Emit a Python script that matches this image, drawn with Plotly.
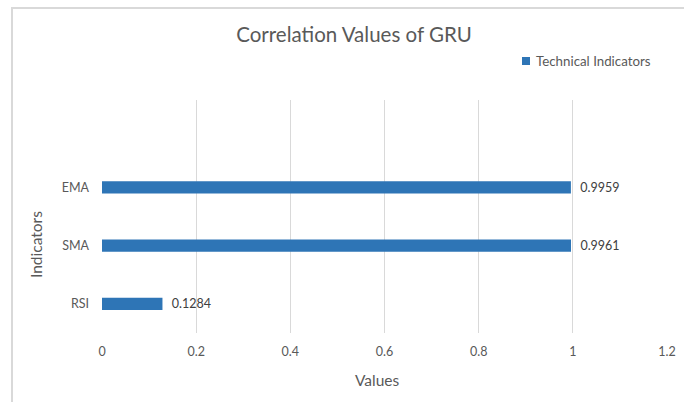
import plotly.graph_objects as go

indicators = ["RSI", "SMA", "EMA"]
values = [0.1284, 0.9961, 0.9959]
labels = ["0.1284", "0.9961", "0.9959"]
x_ticks = [0, 0.2, 0.4, 0.6, 0.8, 1, 1.2]
x_tick_text = ["0", "0.2", "0.4", "0.6", "0.8", "1", "1.2"]
series_name = "Technical Indicators"

FONT = "Lato, 'Open Sans', sans-serif"
GREY = "#595959"
BLUE = "#2E75B6"

fig = go.Figure()
fig.add_trace(go.Bar(
    x=values, y=indicators, orientation="h",
    name=series_name, showlegend=False,
    marker=dict(color=BLUE, line=dict(width=0)),
    width=0.21,
    text=labels, texttemplate="\u00a0\u00a0%{text}", textposition="outside",
    cliponaxis=False, constraintext="none",
    textfont=dict(family=FONT, size=12.5, color="#404040"),
))

W, H = 684, 402
L, R, T, B = 102, 17, 100, 69
pw, ph = W - L - R, H - T - B

def px(x):
    return (x - L) / pw

def py(y):
    return (H - B - y) / ph

fig.update_layout(
    width=W, height=H,
    margin=dict(l=L, r=R, t=T, b=B, autoexpand=False),
    paper_bgcolor="white", plot_bgcolor="white",
    font=dict(family=FONT, color=GREY, size=12.5),
    title=dict(text="Correlation Values of GRU", x=354 / W, xref="container", xanchor="center",
               y=1 - 35 / H, yref="container", yanchor="middle",
               font=dict(family=FONT, size=20.5, color=GREY)),
    showlegend=False,
    xaxis=dict(range=[0, 1.2], tickvals=x_ticks, ticktext=x_tick_text,
               showgrid=True, gridcolor="#D9D9D9", gridwidth=1, zeroline=False,
               showline=False, ticks="", ticklabelstandoff=9, automargin=False,
               tickfont=dict(family=FONT, size=12.5, color=GREY)),
    yaxis=dict(type="category", categoryorder="array", categoryarray=indicators,
               range=[-0.5, 3.5], showgrid=False, zeroline=False, showline=False,
               ticks="", ticklabelstandoff=12, automargin=False,
               tickfont=dict(family=FONT, size=12.5, color=GREY)),
    annotations=[
        dict(text="Values", x=px(377), y=py(380), xref="paper", yref="paper",
             showarrow=False, xanchor="center", yanchor="middle",
             font=dict(family=FONT, size=15.5, color=GREY)),
        dict(text="Indicators", x=px(36), y=py(245), xref="paper", yref="paper",
             showarrow=False, xanchor="center", yanchor="middle", textangle=-90,
             font=dict(family=FONT, size=15.5, color=GREY)),
        dict(text=series_name, x=px(534), y=py(61), xref="paper", yref="paper",
             showarrow=False, xanchor="left", yanchor="middle",
             font=dict(family=FONT, size=13.3, color=GREY)),
    ],
    shapes=[
        dict(type="rect", xref="paper", yref="paper",
             x0=px(12), x1=px(W + 20), y0=py(H + 20), y1=py(8),
             line=dict(color="#D9D9D9", width=2), fillcolor="rgba(0,0,0,0)", layer="below"),
        dict(type="rect", xref="paper", yref="paper",
             x0=px(522), x1=px(530), y0=py(65), y1=py(57),
             line=dict(width=0), fillcolor=BLUE),
    ],
)

fig.write_html("out.html", config={"displayModeBar": False},
               post_script="document.body.style.margin='0';")
